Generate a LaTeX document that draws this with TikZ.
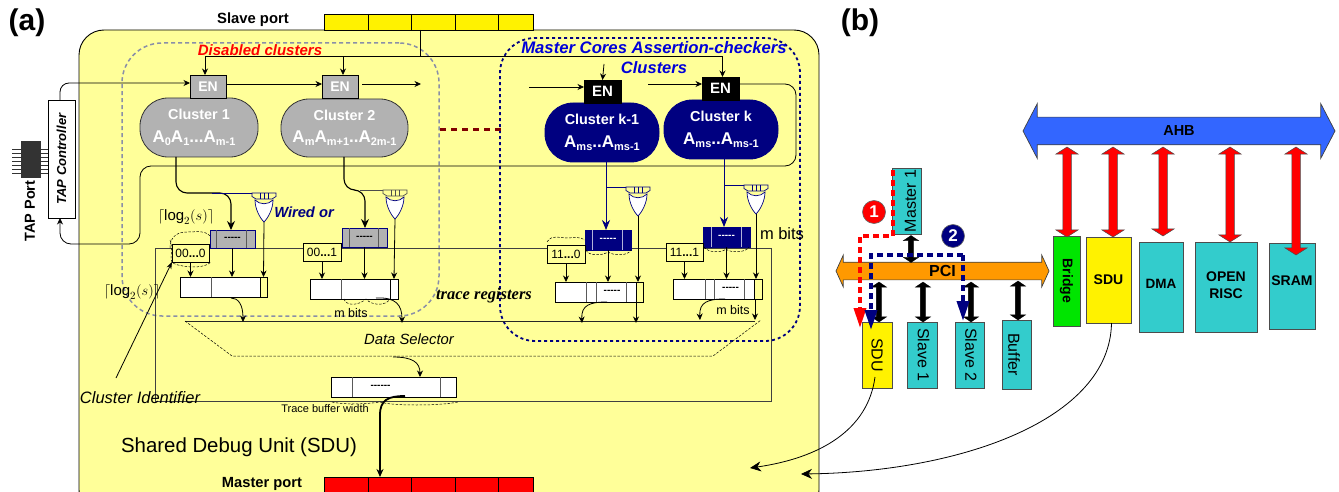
\documentclass[tikz,border=0pt]{standalone}
\usepackage{fontspec}
\setmainfont{Liberation Sans}
\newfontfamily\serifbi{Liberation Serif}
\usetikzlibrary{arrows.meta,shapes.arrows,calc}
\definecolor{sduyellow}{HTML}{FFFF99}
\definecolor{navyb}{HTML}{000080}
\definecolor{tealb}{HTML}{33CCCC}
\definecolor{gray1}{HTML}{B2B2B2}
\definecolor{gray2}{HTML}{8A8FA8}
\definecolor{ahbblue}{HTML}{3366FF}
\definecolor{pciorange}{HTML}{FF9900}
\definecolor{dred}{HTML}{800000}
\newcommand{\fsz}[1]{\fontsize{#1}{#1}\selectfont}
\newcommand{\sbt}[1]{\raisebox{-0.35ex}{\fontsize{11}{11}\selectfont #1}}
\newcommand{\dfive}{-{}-{}-{}-{}-}
\newcommand{\dsix}{-{}-{}-{}-{}-{}-}
\newcommand{\bx}[7][]{%
  \pgfmathsetmacro{\bxcx}{(#3+#5)/2}\pgfmathsetmacro{\bxcy}{(#4+#6)/2}%
  \pgfmathsetmacro{\bxw}{#5-#3}\pgfmathsetmacro{\bxh}{#6-#4}%
  \node[boxb,minimum width=\bxw pt,minimum height=\bxh pt,#1] (#2) at (\bxcx,\bxcy) {#7};}
\newcommand{\orgate}[3]{%
  \begin{scope}[shift={(#1,#2)}]
    \draw[#3,line width=.7pt,fill=sduyellow] (-12,0) -- (12,0) -- (12,3.5) -- (8,6) -- (-8,6) -- (-12,3.5) -- cycle;
    \draw[#3,line width=.7pt] (-4,0) -- (-4,6) (0,0) -- (0,6) (4,0) -- (4,6);
    \draw[navyb,line width=.7pt,fill=white] (-9,7) .. controls (-9,16) and (-4,25) .. (0,29) .. controls (4,25) and (9,16) .. (9,7) .. controls (4,12) and (-4,12) .. (-9,7) -- cycle;
  \end{scope}}
\tikzset{
  x=1pt,y=-1pt,
  boxb/.style={draw=black,line width=.9pt,inner sep=0pt,outer sep=0pt,align=center},
  wire/.style={draw=black,line width=.8pt,-{Stealth[length=6.5pt,width=6pt]},rounded corners=9pt},
  plain/.style={draw=black,line width=.8pt,rounded corners=9pt},
  fatwire/.style={draw=black,line width=1.1pt,-{Stealth[length=9pt,width=8pt]},rounded corners=11pt},
  navywire/.style={draw=navyb,line width=.8pt,-{Stealth[length=10pt,width=8pt]}},
  div/.style={draw=black!65,line width=1pt},
  dsh/.style={draw=black,line width=.5pt,dash pattern=on 2.5pt off 1.5pt},
  clus/.style={fill=gray1,draw=black!80,line width=.8pt,text=white,rounded corners=28pt,font=\fsz{14.4}\bfseries},
  clusk/.style={fill=navyb,draw=navyb,line width=.8pt,text=white,rounded corners=28pt,font=\fsz{14.4}\bfseries},
  engray/.style={fill=gray1,text=white,font=\fsz{14}\bfseries},
  enblack/.style={fill=black,text=white,font=\fsz{15}\bfseries},
  txt/.style={inner sep=0pt,outer sep=0pt,text=black},
  regwhite/.style={fill=white,line width=.9pt},
  idb/.style={fill=sduyellow,line width=.9pt,font=\fsz{12}},
  tealbox/.style={fill=tealb,draw=black!70,line width=.9pt},
  redarr/.style={double arrow,rotate=90,fill=red,draw=black!70,line width=.5pt,minimum width=22pt,double arrow head extend=7pt,double arrow tip angle=115,inner sep=0pt,outer sep=0pt},
  blkarr/.style={double arrow,rotate=90,fill=black,draw=black,line width=.3pt,minimum width=15pt,double arrow head extend=5pt,double arrow tip angle=112,inner sep=0pt,outer sep=0pt},
  num/.style={circle,draw=black!60,line width=.6pt,minimum size=23pt,inner sep=0pt,text=white,font=\fsz{17}\bfseries},
}
\begin{document}
\begin{tikzpicture}
\useasboundingbox (0,0) rectangle (1339,492);
\clip (0,0) rectangle (1339,492);
% SDU body
\bx[fill=sduyellow,rounded corners=25pt]{sdubody}{79}{30}{819}{515}{}
% group frames
\bx[draw=gray2,line width=1.5pt,dash pattern=on 4pt off 3pt,rounded corners=40pt]{grpdis}{122}{43}{439}{316}{}
\bx[draw=navyb,line width=1.8pt,dash pattern=on 3pt off 3pt,rounded corners=35pt]{grpmas}{500}{38}{800}{341}{}
% ports
\bx[fill=yellow]{slave}{324}{14}{533}{30}{}
\draw[line width=.9pt] (368,14)--(368,30) (411,14)--(411,30) (455,14)--(455,30) (498,14)--(498,30);
\bx[fill=red]{master}{324}{477}{533}{500}{}
\draw[line width=.9pt] (368,477)--(368,500) (411,477)--(411,500) (455,477)--(455,500) (498,477)--(498,500);
\node[txt,font=\fsz{14.8}\bfseries] (slavelab) at (253,20) {Slave port};
\node[txt,font=\fsz{14.7}\bfseries] (masterlab) at (262,484) {Master port};
\node[txt,font=\fsz{30}\bfseries] (laba) at (27,23) {(a)};
\node[txt,font=\fsz{30}\bfseries] (labb) at (860,23) {(b)};
% TAP
\draw[line width=.6pt,black!80] (12,149)--(48,149) (12,153)--(48,153) (12,157)--(48,157) (12,161)--(48,161) (12,165)--(48,165) (12,169)--(48,169) (12,173)--(48,173);
\bx[fill=black!80,draw=black!80]{tapport}{21}{141}{40}{177}{}
\node[txt,rotate=90,font=\fsz{14.5}\bfseries] (taplab) at (30,211) {TAP Port};
\bx[fill=white]{tapc}{48}{100}{75}{218}{\rotatebox{90}{\fsz{13}\bfseries\itshape TAP Controller}}
% EN and clusters
\bx[clus]{c1}{140}{98}{258}{157}{Cluster 1\\[8pt]\hspace*{-10pt}\fsz{17}A\sbt{0}A\sbt{1}...A\sbt{m-1}}
\bx[clus]{c2}{281}{99}{408}{157}{Cluster 2\\[8pt]\fsz{17}A\sbt{m}A\sbt{m+1}..A\sbt{2m-1}}
\bx[clusk]{ck1}{545}{103}{659}{162}{Cluster k-1\\[8pt]\fsz{17}A\sbt{ms}..A\sbt{ms-1}}
\bx[clusk]{ck}{664}{100}{778}{159}{Cluster k\\[8pt]\fsz{17}A\sbt{ms}..A\sbt{ms-1}}
\bx[engray]{en1}{190}{75}{226}{98}{EN}
\bx[engray]{en2}{322}{75}{358}{98}{EN}
\bx[enblack]{enk1}{584}{80}{621}{103}{EN}
\bx[enblack]{enk}{702}{77}{739}{100}{EN}
% enable wires
\coordinate (sj) at (420,56);
\draw[plain,rounded corners=0pt] (sj |- slave.south) -- (sj);
\draw[wire,rounded corners=0pt] (sj) -| ([xshift=-3pt]en1.north);
\draw[wire,rounded corners=0pt] (sj) -| ([xshift=3pt]en2.north);
\draw[wire,rounded corners=0pt] (sj) -| ([xshift=2pt]enk.north);
\coordinate (enk1in) at (604,64);
\draw[wire] (enk1in) -- (enk1.north);
% scan chain
\draw[wire] (tapc.north -| 60,100) -- (60,83) -- (en1.west |- 0,83);
\draw[wire] (en1.east |- 0,84) -- (en2.west |- 0,84);
\coordinate (ch2) at (421,84);
\draw[wire] ([xshift=4pt]en2.east |- 0,84) -- (ch2);
\coordinate (ch3) at (529,87);
\draw[wire] (ch3) -- (enk1.west |- ch3);
\coordinate (ch4) at (648,84);
\draw[wire] (ch4) -- (enk.west |- ch4);
\draw[wire,rounded corners=11pt] (enk.east |- ch4) -- (796,84) -- (796,166) -- (140,166) -- (140,244) -- (60,244) -- (tapc.south -| 60,0);
% dots between groups
\coordinate (dl) at (440,130);\coordinate (dr) at (505,130);
\draw[dred,line width=3pt,dash pattern=on 6pt off 5pt] (dl) -- (dr);
% long frame
\bx[draw=black!75,line width=.8pt]{frame}{155}{248}{771}{401}{}
% gates
\orgate{264}{193}{navyb}
\orgate{395}{190}{black!70}
\orgate{638}{187}{navyb}
\orgate{756}{185}{navyb}
% registers
\bx[fill=gray1,draw=navyb]{r1}{210}{230}{255}{248}{\fsz{10}\bfseries\dfive}
\bx[fill=gray1,draw=navyb]{r2}{342}{228}{387}{247}{\fsz{10}\bfseries\dfive}
\bx[fill=navyb,draw=navyb,text=white]{r3}{585}{230}{631}{250}{\fsz{10}\bfseries\dfive}
\bx[fill=navyb,draw=navyb,text=white]{r4}{703}{227}{750}{247}{\fsz{10}\bfseries\dfive}
\draw[div] (216,230)--(216,248) (246,230)--(246,248) (349,228)--(349,247) (378,228)--(378,247);
\draw[white!70!navyb,line width=.8pt] (592,230)--(592,250) (622,230)--(622,250) (711,227)--(711,247) (741,227)--(741,247);
% identifiers
\bx[idb]{id1}{172}{244}{209}{262}{00\textbf{...}0}
\bx[idb]{id2}{303}{243}{341}{261}{00\textbf{...}1}
\bx[idb]{id3}{547}{245}{585}{263}{11\textbf{...}0}
\bx[idb]{id4}{666}{243}{703}{261}{11\textbf{...}1}
% trace registers
\bx[regwhite]{t1}{180}{277}{267}{297}{}
\bx[regwhite]{t2}{310}{279}{398}{299}{}
\bx[regwhite]{t3}{555}{282}{643}{302}{\hspace*{26pt}\fsz{10}\bfseries\dfive}
\bx[regwhite]{t4}{673}{279}{762}{299}{\hspace*{26pt}\fsz{10}\bfseries\dfive}
\bx[fill=sduyellow]{t1e}{260}{277}{267}{297}{}
\bx[fill=white]{t2e}{390}{279}{398}{299}{}
\bx[fill=sduyellow]{t3e}{636}{282}{643}{302}{}
\bx[fill=sduyellow]{t4e}{754}{279}{762}{299}{}
\draw[div] (211,277)--(211,297) (341,279)--(341,299) (586,282)--(586,302) (596,282)--(596,302) (626,282)--(626,302) (705,279)--(705,299) (714,279)--(714,299) (744,279)--(744,299);
% cluster outputs
\draw[fatwire] (176,157) -- (176,193) -- (231,193) -- (r1.north -| 231,0);
\draw[navyb,line width=.8pt] (212,193) -- (252,193);
\draw[fatwire] (344,157) -- (344,190) -- (365,190) -- (r2.north -| 365,0);
\draw[black!70,line width=.8pt] (360,190) -- (383,190);
\draw[navywire] (606,162) -- (r3.north -| 606,0);
\draw[navyb,line width=.8pt] (606,187) -- (626,187);
\draw[navywire] (724,159) -- (r4.north -| 724,0);
\draw[navyb,line width=.8pt] (724,185) -- (744,185);
% gate outputs
\draw[wire] (264,222) -- (t1e.north);
\draw[wire] (395,219) -- (t2e.north);
\draw[wire] (638,216) -- (638,282);
\draw[wire] (756,214) -- (756,279);
% into trace registers
\draw[wire] (id1.south) -- (id1.south |- t1.north);
\draw[wire] (232,248) -- (232,277);
\draw[wire] (id2.south) -- (id2.south |- t2.north);
\draw[wire] (r2.south) -- (r2.south |- t2.north);
\draw[wire] (id3.south) -- (id3.south |- t3.north);
\draw[wire] (r3.south) -- (r3.south |- t3.north);
\draw[wire] (id4.south) -- (id4.south |- t4.north);
\draw[wire] (r4.south) -- (r4.south |- t4.north);
% selector
\coordinate (sl) at (185,321);\coordinate (sr) at (760,321);
\draw[line width=.8pt,black!85] (sl) -- (755,321);
\draw[dsh] (sl) -- (232,356) -- (713,356) -- (761,320);
\coordinate (s1) at (243,322);\coordinate (s2) at (402,323);\coordinate (s3) at (582,323);\coordinate (s4) at (700,320);\coordinate (s5) at (636,323);\coordinate (s6) at (755,320);
\draw[wire] (231,298) .. controls (238,298) and (243,304) .. (s1);
\draw[wire] (376,298) .. controls (396,297) and (402,305) .. (s2);
\draw[wire] (607,302) .. controls (590,302) and (581,305) .. (s3);
\draw[wire] (725,299) .. controls (708,299) and (699,302) .. (s4);
\draw[wire] (636,302) -- (s5);
\draw[wire] (755,300) -- (s6);
% output register
\bx[regwhite]{tb}{331}{377}{456}{397}{\fsz{10}\bfseries\dsix\hspace*{26pt}}
\draw[div] (352,377)--(352,397) (440,377)--(440,397);
\draw[wire] (393,357) .. controls (412,357) and (420,362) .. (tb.north -| 420,0);
\draw[draw=black,line width=1.8pt,-{Stealth[length=8pt,width=7pt]}] (405,396) .. controls (388,396) and (380,400) .. (380,415) -- (master.north -| 380,0);
% dashed braces
\draw[dsh] (170,248) .. controls (170,236) and (178,232) .. (187,232) .. controls (195,232) and (205,230) .. (210,236);
\draw[dsh] (170,240) .. controls (175,255) and (165,262) .. (178,265) .. controls (190,268) and (205,268) .. (211,262);
\draw[dsh] (344,299) .. controls (346,306) and (358,306) .. (366,299) .. controls (372,306) and (386,306) .. (390,299);
\draw[dsh] (547,242) .. controls (552,234) and (560,238) .. (566,238) .. controls (572,238) and (580,236) .. (585,240);
\draw[dsh] (586,250) .. controls (588,256) and (602,256) .. (608,252) .. controls (614,256) and (628,256) .. (631,250);
\draw[dsh] (704,247) .. controls (708,253) and (722,253) .. (726,249) .. controls (730,253) and (746,253) .. (749,247);
\draw[dsh] (332,402) .. controls (345,405) and (368,404) .. (380,402) .. controls (392,406) and (440,406) .. (458,402);
% identifier pointer
\coordinate (cidp) at (116,378);
\draw[wire,-{Stealth[length=7pt,width=5pt]}] (cidp) -- (id1.south west);
% labels
\node[txt,font=\fsz{15}\bfseries\itshape,text=red] (ldis) at (260,50) {Disabled clusters};
\node[txt,font=\fsz{16.7}\bfseries\itshape,text=blue!85!black] (lmas) at (654,48) {Master Cores Assertion-checkers};
\node[txt,font=\fsz{16.5}\bfseries\itshape,text=blue!85!black] (lclu) at (654,68) {Clusters};
\node[txt,font=\fsz{14.7}\bfseries\itshape,text=navyb] (lwo) at (304,212) {Wired or};
\node[txt,font=\fsz{15}] (llog1) at (186,217) {$\lceil\log_2(s)\rceil$};
\node[txt,font=\fsz{15}] (llog2) at (132,292) {$\lceil\log_2(s)\rceil$};
\node[txt,font=\serifbi\fsz{16.5}\bfseries\itshape] (ltr) at (484,296) {trace registers};
\node[txt,font=\fsz{12.5}] (lm1) at (351,313) {m bits};
\node[txt,font=\fsz{12.5}] (lm2) at (733,310) {m bits};
\node[txt,font=\fsz{16.5}] (lm3) at (782,234) {m bits};
\node[txt,font=\fsz{14.8}\itshape] (lds) at (409,339) {Data Selector};
\node[txt,font=\fsz{16.5}\itshape] (lci) at (140,398) {Cluster Identifier};
\node[txt,font=\fsz{11}] (ltb) at (325,409) {Trace buffer width};
\node[txt,font=\fsz{20.4}] (lsdu) at (239,447) {Shared Debug Unit (SDU)};
% ------- part b
\node[double arrow,fill=ahbblue,draw=black!75,line width=.7pt,minimum width=54pt,minimum height=312pt,double arrow head extend=13.5pt,double arrow tip angle=125,inner sep=0pt,outer sep=0pt,font=\fsz{14.5}\bfseries] (ahb) at (1179,131) {\rule[-8.5pt]{0pt}{27pt}AHB};
\node[double arrow,fill=pciorange,draw=black!75,line width=.7pt,minimum width=31pt,minimum height=213pt,double arrow head extend=7pt,double arrow tip angle=131,inner sep=0pt,outer sep=0pt,font=\fsz{16}\bfseries] (pci) at (942.5,271) {\rule[-3pt]{0pt}{17pt}PCI};
\bx[fill=green!90!black,draw=black!70]{bridge}{1053}{236}{1080}{326}{\rotatebox{-90}{\fsz{14}\bfseries Bridge}}
\bx[fill=yellow,draw=black!70]{sdub}{1086}{237}{1131}{323}{\raisebox{-3pt}{\fsz{14}\bfseries SDU}}
\bx[tealbox]{dma}{1139}{242}{1183}{332}{\raisebox{7pt}{\fsz{13.5}\bfseries DMA}}
\bx[tealbox]{orisc}{1195}{242}{1257}{332}{\raisebox{5pt}{\fsz{14}\bfseries\begin{tabular}{@{}c@{}}OPEN\\[3pt]RISC\end{tabular}}}
\bx[tealbox]{sram}{1269}{243}{1315}{329}{\raisebox{10pt}{\fsz{14}\bfseries SRAM}}
\bx[tealbox]{m1}{892}{168}{921}{234}{\hspace*{8pt}\rotatebox{90}{\fsz{16}Master 1}}
\bx[fill=yellow,draw=black!70]{sdua}{862}{322}{892}{388}{\raisebox{3pt}{\rotatebox{-90}{\fsz{16}SDU}}}
\bx[tealbox]{s1}{907}{322}{937}{388}{\hspace*{3pt}\raisebox{8pt}{\rotatebox{-90}{\fsz{16}Slave 1}}}
\bx[tealbox]{s2}{955}{322}{984}{388}{\hspace*{3pt}\rotatebox{-90}{\fsz{16}Slave 2}}
\bx[tealbox]{buf}{1002}{320}{1031}{389}{\hspace*{-5pt}\rotatebox{-90}{\fsz{16}Buffer}}
\newcommand{\rsh}{\rule[-4pt]{0pt}{8pt}}
\newcommand{\bsh}{\rule[-2.5pt]{0pt}{5pt}}
\node[redarr,minimum height=90pt] (ra1) at (1067,192) {\rsh};
\node[redarr,minimum height=90pt] (ra2) at (1113,192) {\rsh};
\node[redarr,minimum height=89pt] (ra3) at (1163,191.5) {\rsh};
\node[redarr,minimum height=95pt] (ra4) at (1230,194.5) {\rsh};
\node[redarr,minimum height=108pt] (ra5) at (1296,201) {\rsh};
\node[blkarr,minimum height=27pt] (ba0) at (911,249) {\bsh};
\node[blkarr,minimum height=40pt] (ba1) at (879,302) {\bsh};
\node[blkarr,minimum height=40pt] (ba2) at (923,302) {\bsh};
\node[blkarr,minimum height=40pt] (ba3) at (971,302) {\bsh};
\node[blkarr,minimum height=39pt] (ba4) at (1018,300.5) {\bsh};
% transaction paths
\coordinate (ra) at (893,170);\coordinate (rb) at (893,236);\coordinate (rc) at (860,236);\coordinate (rd) at (860,328);
\draw[red,line width=3.4pt,dash pattern=on 6pt off 4pt,-{Triangle[length=20pt,width=12pt]}] (ra) -- (rb) -- (rc) -- (rd);
\coordinate (bb) at (963,255);\coordinate (bc) at (871,255);\coordinate (bd) at (871,330);\coordinate (be) at (963,321);
\draw[navyb,line width=3.4pt,dash pattern=on 6pt off 4pt,-{Triangle[length=20pt,width=12pt]}] (bb) -- (bc) -- (bd);
\draw[navyb,line width=3.4pt,dash pattern=on 6pt off 4pt,-{Triangle[length=20pt,width=12pt]}] (bb) -- (be);
\node[num,fill=red] (n1) at (874,212) {1};
\node[num,fill=navyb] (n2) at (953,236) {2};
% links back to SDU box
\coordinate (ta1) at (750,468);\coordinate (ta2) at (801,474);
\draw[draw=black,line width=.8pt,-{Stealth[length=11pt,width=10pt]}] ([xshift=-2pt,yshift=11pt]sdua.south) .. controls (868,430) and (820,458) .. (ta1);
\draw[draw=black,line width=.8pt,-{Stealth[length=11pt,width=10pt]}] ([xshift=3pt]sdub.south) .. controls (1110,420) and (960,472) .. (ta2);
\end{tikzpicture}
\end{document}
